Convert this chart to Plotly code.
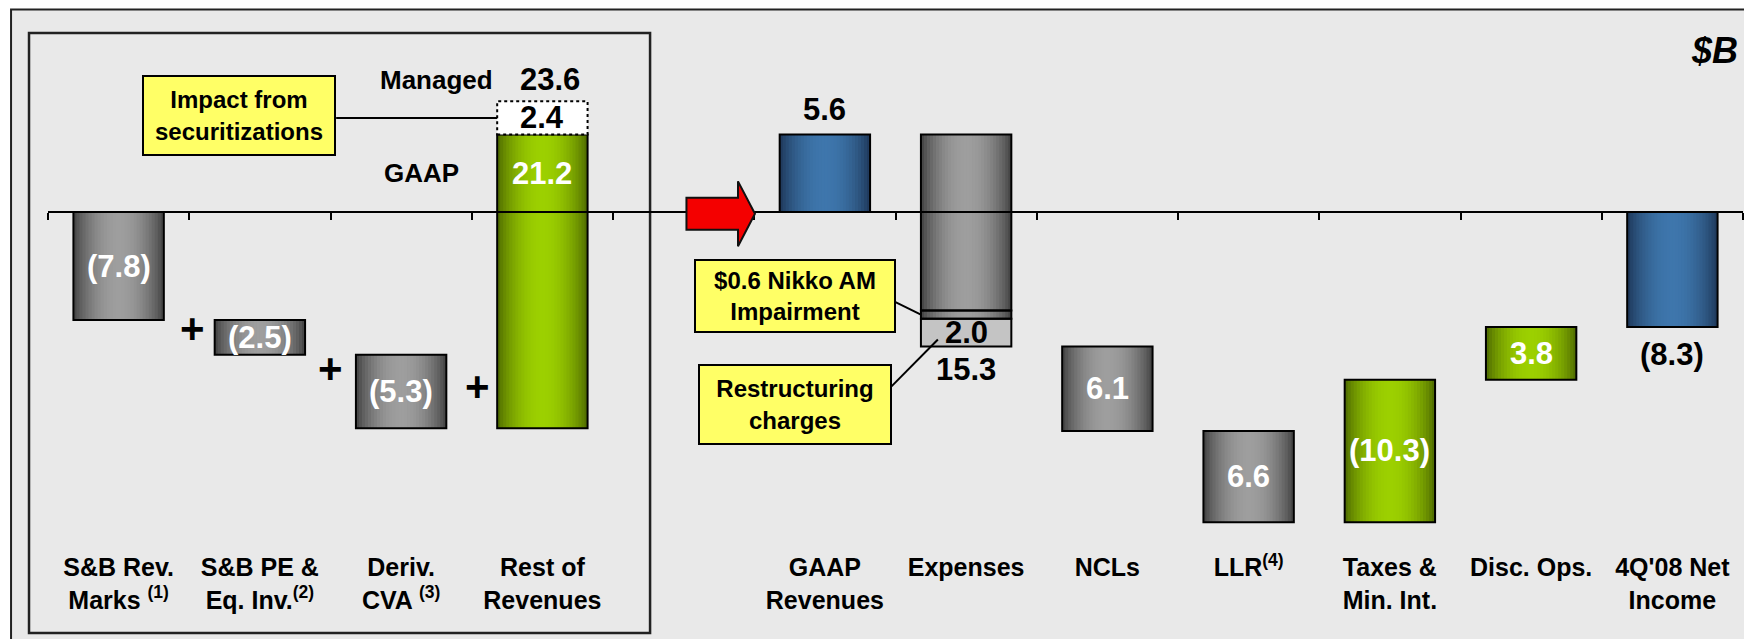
import math
import plotly.graph_objects as go

# slots along the axis, slot 4 only holds the red arrow
categories = ["S&B Rev.<br>Marks <sup>(1)</sup>", "S&B PE &<br>Eq. Inv.<sup>(2)</sup>",
              "Deriv.<br>CVA <sup>(3)</sup>", "Rest of<br>Revenues", "",
              "GAAP<br>Revenues", "Expenses", "NCLs", "LLR<sup>(4)</sup>",
              "Taxes &<br>Min. Int.", "Disc. Ops.", "4Q'08 Net<br>Income"]

# $B
revenue_items = [-7.8, -2.5, -5.3, 21.2]   # S&B marks, S&B PE & eq. inv., deriv. CVA, rest
securitizations = 2.4
gaap_revenues = 5.6
expense_parts = [12.7, 0.6, 2.0]           # other, Nikko AM impairment, restructuring
ncls = 6.1
llr = 6.6
taxes = 10.3                               # benefit
disc_ops = 3.8
net_income = -8.3

FONT = "Liberation Sans, Arial, sans-serif"
W = 0.64


def fmt(v):
    return f"({abs(v):.1f})" if v < 0 else f"{v:.1f}"


# build the waterfall segments: (slot, base, height, colour family)
segs = []
run = 0.0
for i, v in enumerate(revenue_items):
    segs.append((i, run, v, "green" if v > 0 else "gray"))
    run += v
segs.append((5, 0.0, gaap_revenues, "blue"))
run = gaap_revenues
for v in expense_parts[:2]:
    segs.append((6, run, -v, "gray"))
    run -= v
restr_base = run
run -= expense_parts[2]
expense_bottom = run
segs.append((7, run, -ncls, "gray"))
run -= ncls
segs.append((8, run, -llr, "gray"))
run -= llr
segs.append((9, run, taxes, "green"))
run += taxes
segs.append((10, run, disc_ops, "green"))
segs.append((11, 0.0, net_income, "blue"))

edge = {"gray": (60, 60, 60), "green": (74, 100, 0), "blue": (28, 52, 84)}
mid = {"gray": (158, 158, 158), "green": (156, 208, 0), "blue": (62, 118, 172)}

xs = [s[0] for s in segs]
bs = [s[1] for s in segs]
hs = [s[2] for s in segs]

fig = go.Figure()

# horizontal gradient: thin slices, each running to the right edge of the bar
N = 30
for k in range(N):
    t = (k + 0.5) / N
    f = math.sin(math.pi * t) ** 0.75
    cols = []
    for s in segs:
        e, m = edge[s[3]], mid[s[3]]
        cols.append("rgb(%d,%d,%d)" % tuple(round(e[j] + (m[j] - e[j]) * f) for j in range(3)))
    fig.add_trace(go.Bar(x=xs, y=hs, base=bs, offset=-W / 2 + k * W / N, width=W - k * W / N,
                         marker=dict(color=cols, line=dict(width=0)),
                         hoverinfo="skip", showlegend=False))

# restructuring charges
fig.add_trace(go.Bar(x=[6], y=[-expense_parts[2]], base=[restr_base], width=W,
                     marker=dict(color="#c4c4c4", line=dict(width=0)),
                     hoverinfo="skip", showlegend=False))

# black outlines (on the overlay axis, so the zero line sits above them)
fig.add_trace(go.Bar(x=xs + [6], y=hs + [-expense_parts[2]], base=bs + [restr_base], width=W,
                     marker=dict(color="rgba(0,0,0,0)", line=dict(color="black", width=2)),
                     xaxis="x2", hoverinfo="skip", showlegend=False))

ann = []


def label(x, y, text, color="black", size=31, **kw):
    ann.append(dict(x=x, y=y, xref="x", yref="y", text=text, showarrow=False,
                    font=dict(family=FONT, size=size, color=color, weight="bold"), **kw))


# values inside bars
for s in segs[:3]:
    label(s[0], s[1] + s[2] / 2, fmt(s[2]), "white")
label(3, gaap_revenues / 2, fmt(revenue_items[3]), "white")
label(3, gaap_revenues + securitizations / 2, fmt(securitizations))
label(3, gaap_revenues + securitizations, fmt(revenue_items[3] + securitizations),
      yanchor="bottom", yshift=2, xshift=8)
label(3 - W / 2, gaap_revenues + securitizations, "Managed", size=26,
      xanchor="right", yanchor="bottom", xshift=-2, yshift=4)
label(3 - W / 2, gaap_revenues / 2, "GAAP", size=26, xanchor="right", xshift=-36)
label(5, gaap_revenues, fmt(gaap_revenues), yanchor="bottom", yshift=6)
label(6, restr_base - expense_parts[2] / 2, fmt(expense_parts[2]))
label(6, expense_bottom, fmt(sum(expense_parts)), yanchor="top", yshift=-4)
label(7, segs[-5][1] + segs[-5][2] / 2, fmt(ncls), "white")
label(8, segs[-4][1] + segs[-4][2] / 2, fmt(llr), "white")
label(9, segs[-3][1] + segs[-3][2] / 2, fmt(-taxes), "white")
label(10, segs[-2][1] + segs[-2][2] / 2, fmt(disc_ops), "white")
label(11, net_income, fmt(net_income), yanchor="top", yshift=-8)

# plus signs
for px, py in [(0.52, -8.4), (1.5, -11.3), (2.54, -12.6)]:
    label(px, py, "+", size=42)

# yellow call-out boxes
for bx, by, txt, bw, bh in [(0.852, 7.0, "Impact from<br>securitizations", 188, 75),
                            (4.79, -6.06, "$0.6 Nikko AM<br>Impairment", 196, 68),
                            (4.79, -13.9, "Restructuring<br>charges", 188, 75)]:
    ann.append(dict(x=bx, y=by, xref="x", yref="y", text=txt, showarrow=False,
                    width=bw, height=bh, bgcolor="#ffff66", bordercolor="black",
                    borderwidth=2, borderpad=1,
                    font=dict(family=FONT, size=24, color="black", weight="bold")))

ann.append(dict(x=0.983, y=0.96, xref="paper", yref="paper", text="<i>$B</i>",
                xanchor="center", yanchor="middle", showarrow=False,
                font=dict(family=FONT, size=36, color="black", weight="bold")))

shapes = [
    # outer panel and left-hand box
    dict(type="rect", xref="paper", yref="paper", x0=-0.0218, x1=1.05, y0=-0.3, y1=1.0394,
         fillcolor="#e9e9e9", line=dict(color="#222", width=2), layer="below"),
    dict(type="rect", xref="paper", yref="paper", x0=-0.0112, x1=0.3552, y0=-0.1596, y1=0.9942,
         line=dict(color="#222", width=2.5), layer="below"),
    # securitization add-on
    dict(type="rect", xref="x", yref="y", x0=3 - W / 2, x1=3 + W / 2,
         y0=gaap_revenues, y1=gaap_revenues + securitizations,
         fillcolor="white", line=dict(color="black", width=2, dash="dot")),
    # call-out leader lines
    dict(type="line", xref="x", yref="y", x0=1.54, x1=3 - W / 2,
         y0=gaap_revenues + securitizations / 2, y1=gaap_revenues + securitizations / 2,
         line=dict(color="black", width=2)),
    dict(type="line", xref="x", yref="y", x0=5.5, y0=-6.5, x1=6 - W / 2,
         y1=gaap_revenues - expense_parts[0] - expense_parts[1] / 2, line=dict(color="black", width=2)),
    dict(type="line", xref="x", yref="y", x0=5.47, y0=-12.6, x1=5.8, y1=-9.2,
         line=dict(color="black", width=2)),
    # red arrow
    dict(type="path", xref="x", yref="y",
         path="M 4.02 1.04 L 4.385 1.04 L 4.385 2.22 L 4.505 -0.12 L 4.385 -2.46 "
              "L 4.385 -1.28 L 4.02 -1.28 Z",
         fillcolor="#f40000", line=dict(color="#111", width=2)),
]

# the page body adds an 8px margin, so the figure is 8px smaller each way
yr = [-24.4, 13.15]
fig.update_layout(
    width=1744, height=631,
    margin=dict(l=40, r=9, t=22, b=89),
    paper_bgcolor="white", plot_bgcolor="rgba(0,0,0,0)",
    barmode="overlay", showlegend=False,
    xaxis=dict(range=[-0.5, 11.5], tickvals=list(range(12)), ticktext=categories,
               showgrid=False, zeroline=False, showline=False, ticks="", automargin=False,
               tickfont=dict(family=FONT, size=25, color="black", weight="bold")),
    xaxis2=dict(range=[-0.5, 11.5], overlaying="x", anchor="free",
                position=-yr[0] / (yr[1] - yr[0]), automargin=False,
                tickvals=[i - 0.5 for i in range(13)], ticks="outside", ticklen=7,
                tickwidth=2, tickcolor="black", showline=True, linecolor="black",
                linewidth=2, showticklabels=False, showgrid=False, zeroline=False),
    yaxis=dict(range=yr, visible=False, showgrid=False, zeroline=False, automargin=False),
    annotations=ann, shapes=shapes,
)

fig.write_html("out.html")
